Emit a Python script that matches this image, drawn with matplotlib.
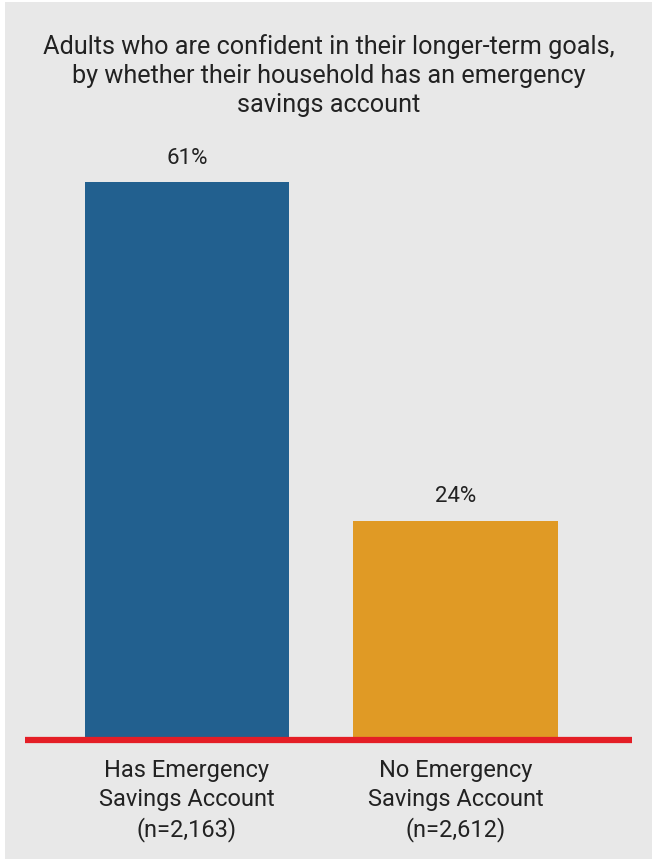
import matplotlib.pyplot as plt
from matplotlib.patches import Rectangle

plt.rcParams['font.family'] = ['Roboto', 'DejaVu Sans']

title = "Adults who are confident in their longer-term goals,\nby whether their household has an emergency\nsavings account"
categories = ["Has Emergency\nSavings Account\n(n=2,163)", "No Emergency\nSavings Account\n(n=2,612)"]
values = [61, 24]
bar_colors = ["#22608f", "#e09a25"]

W, H = 652, 862
fig = plt.figure(figsize=(W / 100, H / 100), dpi=100)
fig.patch.set_facecolor("white")
# gray panel with a thin white border on left/top/bottom
fig.patches.append(Rectangle((5 / W, 2 / H), 1 - 5 / W, 1 - 5 / H,
                             transform=fig.transFigure, facecolor="#e8e8e8",
                             edgecolor="none", zorder=-1))

# axes spans from red line start to end, baseline at y=741 px
left, right = 25, 632
bottom, top = 741, 140
ax = fig.add_axes([left / W, 1 - bottom / H, (right - left) / W, (bottom - top) / H])
ax.set_facecolor("none")
ax.set_zorder(2)

x = [0, 1]
bars = ax.bar(x, values, width=0.76, color=bar_colors, zorder=2)
ax.set_xlim(-0.603, 1.657)
ax.set_ylim(0, 65.75)

for xi, v in zip(x, values):
    ax.text(xi, v + 1.6, f"{v}%", ha="center", va="bottom", fontsize=16, color="#222222")

for s in ["top", "left", "right"]:
    ax.spines[s].set_visible(False)
ax.spines["bottom"].set_color("#e41e26")
ax.spines["bottom"].set_linewidth(4.5)
ax.spines["bottom"].set_capstyle("butt")
ax.spines["bottom"].set_zorder(3)
ax.set_yticks([])
ax.set_xticks(x)
ax.set_xticklabels(categories, fontsize=17, color="#222222", linespacing=1.32)
ax.tick_params(axis="x", length=0, pad=13)

fig.text(0.5 + 5 / W / 2, 1 - 34 / H, title, ha="center", va="top", fontsize=18.2,
         color="#222222", linespacing=1.27)

fig.savefig("out.png", dpi=100)
